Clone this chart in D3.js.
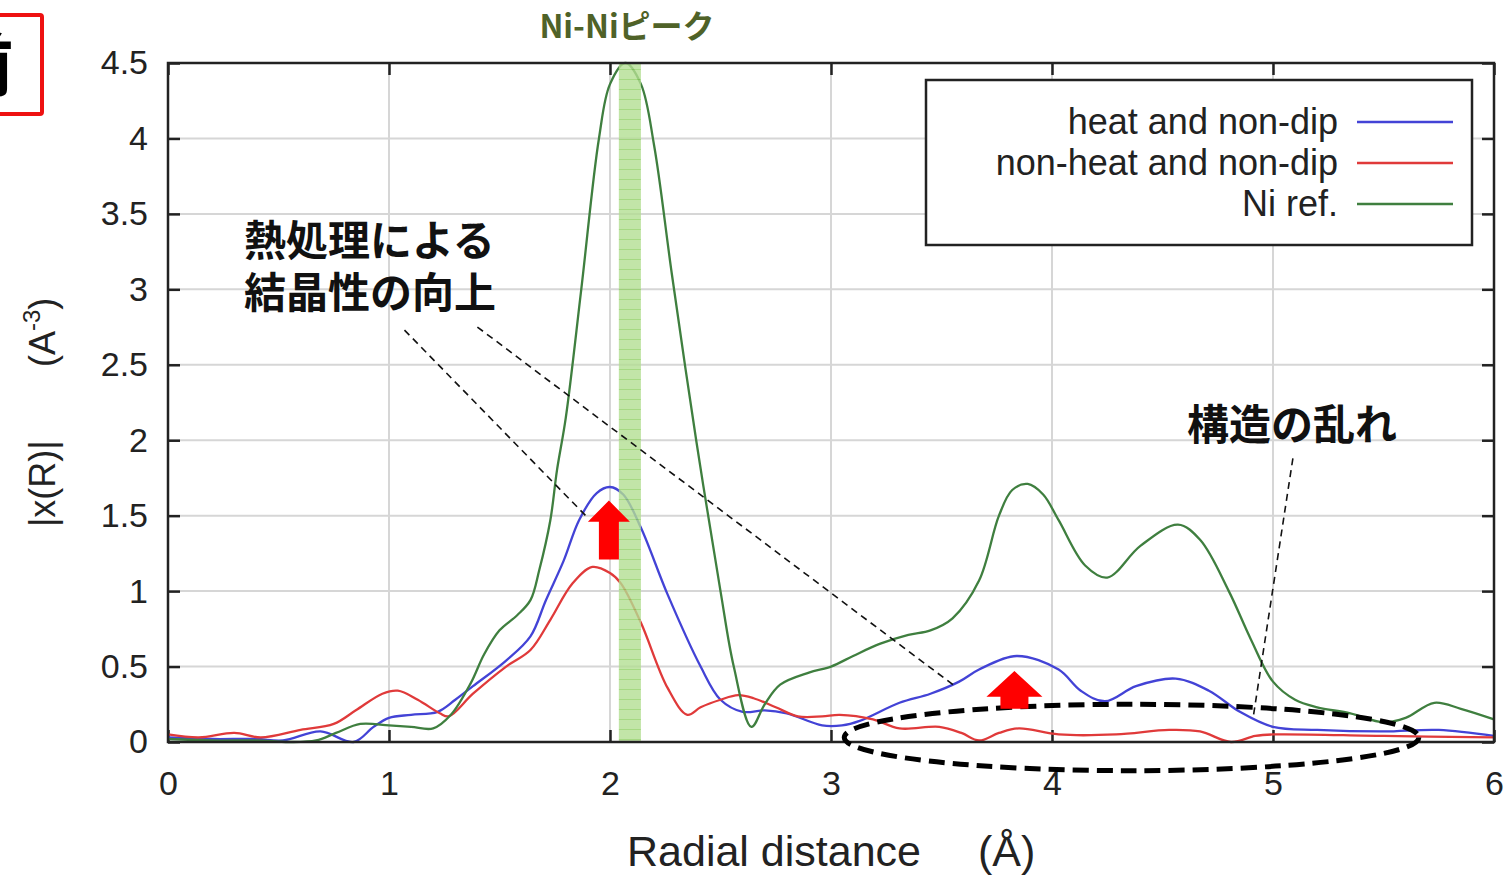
<!DOCTYPE html>
<html>
<head>
<meta charset="utf-8">
<script src="https://cdn.jsdelivr.net/npm/d3@7"></script>
<style>
  body { margin: 0; background: #fff; }
  text { font-family: "Liberation Sans", Arial, sans-serif; }
  .jp { font-family: "Noto Sans CJK JP", sans-serif; font-weight: 700; }
</style>
</head>
<body>
<script>
// chart size
var w = 1509, h = 875;

// data: [R, |x(R)|]
var heatNonDip = [
  [0,0.03],[0.2,0.02],[0.4,0.02],[0.52,0.01],[0.69,0.07],[0.84,0.0],[0.93,0.1],[1.0,0.16],
  [1.1,0.18],[1.22,0.2],[1.3,0.28],[1.38,0.37],[1.53,0.54],[1.64,0.7],[1.71,0.94],[1.79,1.2],
  [1.86,1.47],[1.94,1.65],[2.0,1.69],[2.06,1.64],[2.14,1.42],[2.26,0.98],[2.41,0.5],[2.5,0.28],
  [2.6,0.2],[2.7,0.21],[2.8,0.19],[2.96,0.11],[3.05,0.11],[3.13,0.14],[3.31,0.26],[3.45,0.32],
  [3.58,0.4],[3.67,0.48],[3.84,0.57],[4.03,0.48],[4.13,0.34],[4.24,0.27],[4.38,0.37],[4.56,0.42],
  [4.71,0.34],[4.85,0.2],[5.0,0.1],[5.2,0.08],[5.5,0.07],[5.75,0.08],[6.0,0.04]
];
var nonHeatNonDip = [
  [0,0.05],[0.14,0.03],[0.3,0.06],[0.42,0.03],[0.6,0.08],[0.75,0.12],[0.85,0.21],[0.97,0.32],
  [1.04,0.34],[1.13,0.28],[1.23,0.19],[1.27,0.17],[1.38,0.32],[1.53,0.5],[1.64,0.61],[1.73,0.81],
  [1.83,1.05],[1.92,1.16],[2.0,1.12],[2.05,1.05],[2.14,0.79],[2.26,0.36],[2.35,0.18],[2.41,0.23],
  [2.5,0.28],[2.58,0.31],[2.65,0.29],[2.75,0.23],[2.85,0.17],[2.96,0.17],[3.04,0.18],[3.19,0.15],
  [3.31,0.09],[3.49,0.1],[3.59,0.06],[3.67,0.01],[3.76,0.06],[3.85,0.09],[4.03,0.05],[4.29,0.05],
  [4.53,0.08],[4.67,0.07],[4.81,0.0],[4.92,0.04],[5.0,0.05],[5.5,0.04],[6.0,0.03]
];
var niRef = [
  [0,0.02],[0.2,0.01],[0.4,0.01],[0.55,0.0],[0.67,0.01],[0.76,0.06],[0.87,0.12],[1.0,0.11],
  [1.1,0.1],[1.2,0.09],[1.28,0.18],[1.37,0.39],[1.43,0.58],[1.5,0.74],[1.58,0.84],[1.64,0.94],
  [1.68,1.14],[1.73,1.47],[1.76,1.8],[1.8,2.15],[1.87,3.0],[1.95,4.0],[2.0,4.36],[2.07,4.5],
  [2.14,4.36],[2.2,3.95],[2.28,3.1],[2.39,2.0],[2.5,1.0],[2.56,0.5],[2.64,0.1],[2.7,0.25],
  [2.77,0.38],[2.9,0.46],[3.0,0.5],[3.1,0.57],[3.22,0.65],[3.35,0.71],[3.45,0.74],[3.55,0.82],
  [3.67,1.07],[3.76,1.5],[3.82,1.67],[3.89,1.71],[3.96,1.64],[4.03,1.47],[4.15,1.17],[4.25,1.09],
  [4.4,1.3],[4.57,1.44],[4.67,1.34],[4.8,1.0],[4.9,0.68],[5.0,0.4],[5.1,0.28],[5.2,0.23],
  [5.35,0.19],[5.5,0.13],[5.6,0.16],[5.73,0.26],[5.85,0.22],[6.0,0.15]
];

var seriesNames = ["heat and non-dip", "non-heat and non-dip", "Ni ref."];
var seriesColors = ["#4343d6", "#e03a3a", "#3f7f3f"];
var seriesData = [heatNonDip, nonHeatNonDip, niRef];

var xTicks = [0, 1, 2, 3, 4, 5, 6];
var yTicks = [0, 0.5, 1, 1.5, 2, 2.5, 3, 3.5, 4, 4.5];

// highlighted Ni-Ni peak band (R range)
var peakBand = [2.04, 2.14];

window.onload = function(){
    var svg = d3.select("body").append("svg")
        .attr("width", w)
        .attr("height", h);

    var pLeft = 168, pRight = 1494, pTop = 63, pBottom = 742;

    var x = d3.scaleLinear().domain([0, 6]).range([pLeft, pRight]);
    var y = d3.scaleLinear().domain([0, 4.5]).range([pBottom, pTop]);

    //gridlines
    svg.append("g").selectAll("line")
        .data(xTicks.slice(1, -1))
        .enter().append("line")
        .attr("x1", function(d){ return x(d); })
        .attr("x2", function(d){ return x(d); })
        .attr("y1", pTop).attr("y2", pBottom)
        .style("stroke", "#d6d6d6").style("stroke-width", 2);
    svg.append("g").selectAll("line")
        .data(yTicks.slice(1, -1))
        .enter().append("line")
        .attr("y1", function(d){ return y(d); })
        .attr("y2", function(d){ return y(d); })
        .attr("x1", pLeft).attr("x2", pRight)
        .style("stroke", "#d6d6d6").style("stroke-width", 2);

    //axes with inward ticks on all four sides
    var tickStyle = function(g){
        g.select(".domain").remove();
        g.selectAll("line").style("stroke", "#222").style("stroke-width", 2.5);
        g.selectAll("text").style("font-size", "34px").style("fill", "#222")
            .style("font-family", "Liberation Sans, Arial, sans-serif");
    };
    svg.append("g")
        .attr("transform", "translate(0," + pBottom + ")")
        .call(d3.axisBottom(x).tickValues(xTicks).tickSizeInner(-12).tickPadding(29).tickFormat(d3.format("d")))
        .call(tickStyle);
    svg.append("g")
        .attr("transform", "translate(0," + pTop + ")")
        .call(d3.axisTop(x).tickValues(xTicks).tickSizeInner(-12).tickFormat(""))
        .call(tickStyle);
    svg.append("g")
        .attr("transform", "translate(" + pLeft + ",0)")
        .call(d3.axisLeft(y).tickValues(yTicks).tickSizeInner(-12).tickPadding(20).tickFormat(d3.format("")))
        .call(tickStyle);
    svg.append("g")
        .attr("transform", "translate(" + pRight + ",0)")
        .call(d3.axisRight(y).tickValues(yTicks).tickSizeInner(-12).tickFormat(""))
        .call(tickStyle);

    //curves
    var line = d3.line()
        .x(function(d){ return x(d[0]); })
        .y(function(d){ return y(d[1]); })
        .curve(d3.curveCatmullRom.alpha(0.5));

    svg.append("g").selectAll("path")
        .data(seriesData)
        .enter().append("path")
        .attr("d", line)
        .style("fill", "none")
        .style("stroke", function(d, i){ return seriesColors[i]; })
        .style("stroke-width", 2.3);

    //striped green band for the Ni-Ni peak
    var defs = svg.append("defs");
    var pat = defs.append("pattern")
        .attr("id", "stripes")
        .attr("patternUnits", "userSpaceOnUse")
        .attr("width", 10).attr("height", 10);
    pat.append("rect").attr("width", 10).attr("height", 10).style("fill", "#b3de92");
    pat.append("rect").attr("y", 9).attr("width", 10).attr("height", 1).style("fill", "#8fcf63");

    svg.append("rect")
        .attr("x", x(peakBand[0]))
        .attr("width", x(peakBand[1]) - x(peakBand[0]))
        .attr("y", pTop + 1)
        .attr("height", pBottom - pTop - 1)
        .style("fill", "url(#stripes)")
        .style("opacity", 0.8);

    //frame
    svg.append("rect")
        .attr("x", pLeft).attr("y", pTop)
        .attr("width", pRight - pLeft).attr("height", pBottom - pTop)
        .style("fill", "none").style("stroke", "#222").style("stroke-width", 2.5);

    //legend
    var legend = svg.append("g");
    legend.append("rect")
        .attr("x", 926).attr("y", 80).attr("width", 546).attr("height", 165)
        .style("fill", "#fff").style("stroke", "#222").style("stroke-width", 2.5);
    var rows = legend.selectAll(".row")
        .data(seriesNames)
        .enter().append("g")
        .attr("class", "row")
        .attr("transform", function(d, i){ return "translate(0," + (122 + i * 41) + ")"; });
    rows.append("text")
        .attr("x", 1338).attr("y", 12)
        .attr("text-anchor", "end")
        .style("font-size", "36px").style("fill", "#222")
        .text(function(d){ return d; });
    rows.append("line")
        .attr("x1", 1357).attr("x2", 1453)
        .style("stroke", function(d, i){ return seriesColors[i]; })
        .style("stroke-width", 2.3);

    //axis titles
    var xt = svg.append("text")
        .attr("x", 627).attr("y", 866)
        .style("font-size", "43px").style("fill", "#222");
    xt.append("tspan").text("Radial distance");
    xt.append("tspan").attr("x", 978).text("(Å)");

    var yt = svg.append("text")
        .attr("transform", "translate(55,527) rotate(-90)")
        .style("font-size", "36px").style("fill", "#222");
    yt.append("tspan").text("|x(R)|");
    yt.append("tspan").attr("x", 160).text("(A");
    yt.append("tspan").attr("dy", -15).style("font-size", "24px").text("-3");
    yt.append("tspan").attr("dy", 15).text(")");

    //annotations
    svg.append("text").attr("class", "jp")
        .attr("x", 627).attr("y", 38)
        .attr("text-anchor", "middle")
        .style("font-size", "32px").style("fill", "#4f6228")
        .text("Ni-Niピーク");

    svg.append("text").attr("class", "jp")
        .attr("x", 244).attr("y", 256)
        .style("font-size", "42px").style("fill", "#111")
        .text("熱処理による");
    svg.append("text").attr("class", "jp")
        .attr("x", 244).attr("y", 308)
        .style("font-size", "42px").style("fill", "#111")
        .text("結晶性の向上");
    svg.append("text").attr("class", "jp")
        .attr("x", 1187).attr("y", 440)
        .style("font-size", "42px").style("fill", "#111")
        .text("構造の乱れ");

    // leader lines in data coordinates
    var leaders = [
      [[1.07, 2.73], [1.89, 1.5]],
      [[1.40, 2.75], [3.57, 0.36]],
      [[5.09, 1.88], [4.91, 0.16]]
    ];
    svg.append("g").selectAll("line")
        .data(leaders)
        .enter().append("line")
        .attr("x1", function(d){ return x(d[0][0]); })
        .attr("y1", function(d){ return y(d[0][1]); })
        .attr("x2", function(d){ return x(d[1][0]); })
        .attr("y2", function(d){ return y(d[1][1]); })
        .style("stroke", "#111").style("stroke-width", 1.6)
        .style("stroke-dasharray", "7,5");

    // dashed ellipse around the disordered region
    svg.append("ellipse")
        .attr("cx", x(4.36)).attr("cy", y(0.03))
        .attr("rx", x(1.30) - x(0)).attr("ry", y(0) - y(0.22))
        .style("fill", "none").style("stroke", "#000")
        .style("stroke-width", 5).style("stroke-dasharray", "16,8");

    // red arrows: [R, base, head start, tip, head half-width, shaft half-width]
    var arrows = [
      [1.995, 1.21, 1.46, 1.60, 21, 10],
      [3.83, 0.22, 0.30, 0.47, 28, 14]
    ];
    svg.append("g").selectAll("path")
        .data(arrows)
        .enter().append("path")
        .attr("d", function(d){
            var cx = x(d[0]), yb = y(d[1]), yh = y(d[2]), ytip = y(d[3]);
            return "M" + (cx - d[5]) + "," + yb +
                "L" + (cx - d[5]) + "," + yh +
                "L" + (cx - d[4]) + "," + yh +
                "L" + cx + "," + ytip +
                "L" + (cx + d[4]) + "," + yh +
                "L" + (cx + d[5]) + "," + yh +
                "L" + (cx + d[5]) + "," + yb + "Z";
        })
        .style("fill", "#ff0000");

    // red framed label at top-left corner
    svg.append("rect")
        .attr("x", -6).attr("y", 15).attr("width", 48).attr("height", 99)
        .attr("rx", 2)
        .style("fill", "#fff").style("stroke", "#ee1111").style("stroke-width", 4);
    svg.append("text").attr("class", "jp")
        .attr("x", -56).attr("y", 91)
        .style("font-size", "70px").style("fill", "#000")
        .text("前");
};
</script>
</body>
</html>
